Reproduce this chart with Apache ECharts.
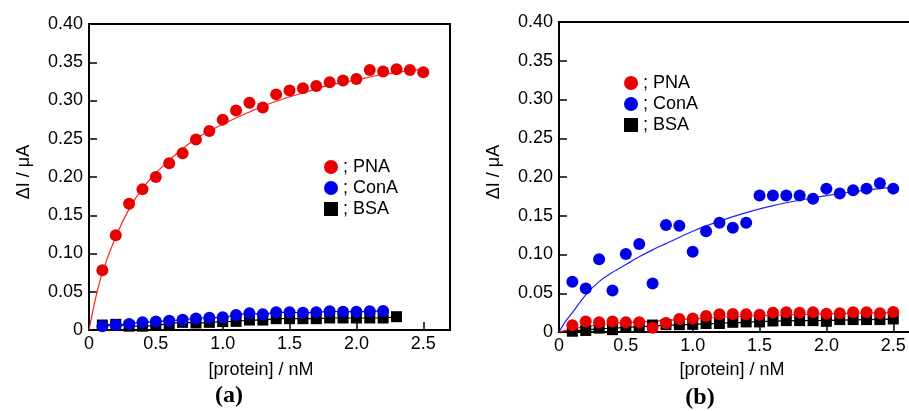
<!DOCTYPE html>
<html>
<head>
<meta charset="utf-8">
<script src="https://cdn.jsdelivr.net/npm/echarts@6/dist/echarts.min.js"></script>
<style>
  html, body { margin: 0; padding: 0; background: #fff; overflow: hidden; }
  /* the right-hand panel runs past the page edge, so the canvas is wider than the window */
  #chart { width: 930px; height: 411px; }
</style>
</head>
<body>
<div id="chart"></div>
<script>
// Protein concentration (nM) at each measurement
const conc = [0.1, 0.2, 0.3, 0.4, 0.5, 0.6, 0.7, 0.8, 0.9, 1.0, 1.1, 1.2, 1.3,
              1.4, 1.5, 1.6, 1.7, 1.8, 1.9, 2.0, 2.1, 2.2, 2.3, 2.4, 2.5];

// Panel (a): response, ΔI / μA
const aPNA = [0.078, 0.124, 0.165, 0.184, 0.200, 0.218, 0.231, 0.249, 0.260, 0.275, 0.287, 0.297, 0.291,
              0.308, 0.313, 0.316, 0.319, 0.324, 0.326, 0.328, 0.340, 0.338, 0.341, 0.340, 0.337];
const aConA = [0.005, 0.0065, 0.008, 0.010, 0.011, 0.012, 0.0135, 0.015, 0.016, 0.0166, 0.0196, 0.0218,
               0.0205, 0.0231, 0.0231, 0.0227, 0.0231, 0.0244, 0.024, 0.024, 0.0244, 0.0248];
const aBSA = [0.0065, 0.0074, 0.005, 0.005, 0.006, 0.0083, 0.010, 0.0092, 0.010, 0.011, 0.0113, 0.013,
              0.013, 0.0148, 0.0148, 0.0148, 0.0148, 0.0157, 0.0157, 0.0157, 0.0157, 0.0157, 0.0174];

// Panel (a): fitted saturation curve for PNA
const aFitX = [0, 0.05, 0.1, 0.2, 0.3, 0.4, 0.5, 0.6, 0.7, 0.8, 0.9, 1.0, 1.2, 1.4, 1.6, 1.8, 2.0, 2.2, 2.5];
const aFitPNA = [0, 0.042, 0.075, 0.122, 0.158, 0.185, 0.205, 0.222, 0.237, 0.250, 0.260, 0.269,
                 0.285, 0.299, 0.310, 0.320, 0.327, 0.334, 0.341];

// Panel (b): response, ΔI / μA
const bPNA = [0.0086, 0.0134, 0.0125, 0.0134, 0.0125, 0.0125, 0.0056, 0.0117, 0.0168, 0.0173, 0.0207, 0.0229, 0.0233,
              0.0229, 0.0224, 0.025, 0.0255, 0.025, 0.0255, 0.0237, 0.0242, 0.0255, 0.0255, 0.0242, 0.0259];
const bConA = [0.0647, 0.056, 0.094, 0.0535, 0.1005, 0.1135, 0.0626, 0.138, 0.137, 0.1036, 0.130, 0.141, 0.1346,
               0.141, 0.176, 0.176, 0.176, 0.176, 0.172, 0.185, 0.1786, 0.183, 0.185, 0.192, 0.185];
const bBSA = [0.001, 0.002, 0.005, 0.003, 0.0065, 0.0078, 0.009, 0.0095, 0.0095, 0.0099, 0.011, 0.011, 0.0125,
              0.013, 0.013, 0.0142, 0.0147, 0.0147, 0.0147, 0.0138, 0.016, 0.016, 0.016, 0.016, 0.0168];

// Panel (b): fitted curves
const bFitConAX = [0, 0.05, 0.1, 0.2, 0.3, 0.4, 0.5, 0.6, 0.7, 0.8, 1.0, 1.2, 1.4, 1.6, 1.8, 2.0, 2.2, 2.5];
const bFitConA = [0, 0.014, 0.025, 0.048, 0.065, 0.077, 0.087, 0.097, 0.106, 0.114, 0.130, 0.143,
                  0.154, 0.163, 0.170, 0.176, 0.181, 0.187];
const bFitPNAX = [0, 0.1, 0.2, 0.4, 0.6, 0.8, 1.0, 1.2, 1.5, 2.0, 2.5];
const bFitPNA = [0, 0.004, 0.007, 0.011, 0.013, 0.015, 0.017, 0.019, 0.021, 0.0235, 0.025];
const bFitBSAX = [0, 0.3, 0.5, 0.7, 1.0, 1.3, 1.6, 2.0, 2.5];
const bFitBSA = [0, 0.004, 0.006, 0.008, 0.0098, 0.012, 0.014, 0.015, 0.0165];

// Axis tick values
const xTicks = [0, 0.5, 1.0, 1.5, 2.0, 2.5];
const yTicks = [0, 0.05, 0.10, 0.15, 0.20, 0.25, 0.30, 0.35, 0.40];

const RED = '#e60000', BLUE = '#0000e6', BLACK = '#000000';
const FONT = '"Liberation Sans", Arial, sans-serif';

const pairs = (xs, ys) => ys.map((y, i) => [xs[i], y]);

function xAxisFor(grid) {
  return {
    type: 'value', gridIndex: grid, min: xTicks[0], max: 2.7, interval: xTicks[1] - xTicks[0],
    axisLine: { show: true, onZero: false, lineStyle: { color: BLACK, width: 2 } },
    axisTick: { show: true, inside: true, length: 8, lineStyle: { color: BLACK, width: 1.5 } },
    axisLabel: {
      color: BLACK, fontFamily: FONT, fontSize: 18, margin: 5, showMaxLabel: false,
      formatter: v => (xTicks.some(t => Math.abs(t - v) < 1e-9) ? (v === 0 ? '0' : v.toFixed(1)) : '')
    },
    splitLine: { show: false }
  };
}
function yAxisFor(grid) {
  return {
    type: 'value', gridIndex: grid, min: yTicks[0], max: yTicks[yTicks.length - 1], interval: yTicks[1] - yTicks[0],
    axisLine: { show: true, onZero: false, lineStyle: { color: BLACK, width: 2 } },
    axisTick: { show: true, inside: true, length: 8, lineStyle: { color: BLACK, width: 1.5 } },
    axisLabel: {
      color: BLACK, fontFamily: FONT, fontSize: 18, margin: 6,
      formatter: v => (v === 0 ? '0' : v.toFixed(2))
    },
    splitLine: { show: false }
  };
}

function scatter(name, grid, data, color, symbol) {
  return {
    name: name, type: 'scatter', xAxisIndex: grid, yAxisIndex: grid, data: data,
    symbol: symbol, symbolSize: symbol === 'rect' ? 11 : 12,
    itemStyle: { color: color, opacity: 1 }, z: 3
  };
}
function curve(name, grid, data, color) {
  return {
    name: name, type: 'line', xAxisIndex: grid, yAxisIndex: grid, data: data,
    smooth: 0.3, showSymbol: false, symbol: 'none',
    lineStyle: { color: color, width: 1.2 }, z: 2, silent: true
  };
}

function legendAt(left, top) {
  return {
    left: left, top: top, orient: 'vertical', itemWidth: 14, itemHeight: 14, itemGap: 3,
    selectedMode: false,
    data: [{ name: 'PNA', icon: 'circle' }, { name: 'ConA', icon: 'circle' }, { name: 'BSA', icon: 'rect' }],
    formatter: n => '; ' + n,
    textStyle: { color: BLACK, fontFamily: FONT, fontSize: 18 }
  };
}

function label(text, x, y, opts) {
  const o = opts || {};
  return {
    type: 'text', x: x, y: y, rotation: o.rotation || 0,
    style: {
      text: text, x: 0, y: 0, fill: BLACK, font: o.font || ('18px ' + FONT),
      textAlign: 'center', textVerticalAlign: 'middle'
    }
  };
}

const chart = echarts.init(document.getElementById('chart'), null, { renderer: 'canvas' });
chart.setOption({
  animation: false,
  backgroundColor: '#ffffff',
  grid: [
    { left: 89, top: 24, width: 361, height: 306, show: true, borderColor: BLACK, borderWidth: 2, backgroundColor: 'transparent' },
    { left: 559, top: 22, width: 361, height: 310, show: true, borderColor: BLACK, borderWidth: 2, backgroundColor: 'transparent' }
  ],
  xAxis: [xAxisFor(0), xAxisFor(1)],
  yAxis: [yAxisFor(0), yAxisFor(1)],
  legend: [legendAt(319, 153), legendAt(619, 69)],
  series: [
    // (a)
    curve('BSA line a', 0, pairs(conc, aBSA), BLACK),
    curve('ConA line a', 0, pairs(conc, aConA), BLUE),
    curve('PNA fit a', 0, pairs(aFitX, aFitPNA), '#ff2020'),
    scatter('BSA', 0, pairs(conc, aBSA), BLACK, 'rect'),
    scatter('ConA', 0, pairs(conc, aConA), BLUE, 'circle'),
    scatter('PNA', 0, pairs(conc, aPNA), RED, 'circle'),
    // (b)
    curve('BSA fit b', 1, pairs(bFitBSAX, bFitBSA), BLACK),
    curve('PNA fit b', 1, pairs(bFitPNAX, bFitPNA), '#ff2020'),
    curve('ConA fit b', 1, pairs(bFitConAX, bFitConA), '#2020ff'),
    scatter('BSA', 1, pairs(conc, bBSA), BLACK, 'rect'),
    scatter('ConA', 1, pairs(conc, bConA), BLUE, 'circle'),
    scatter('PNA', 1, pairs(conc, bPNA), RED, 'circle')
  ],
  graphic: [
    label('ΔI / μA', 24, 172, { rotation: Math.PI / 2 }),
    label('ΔI / μA', 494, 172, { rotation: Math.PI / 2 }),
    label('[protein] / nM', 261, 370),
    label('[protein] / nM', 732, 370),
    label('(a)', 229, 396, { font: 'bold 24px "Liberation Serif", "Times New Roman", serif' }),
    label('(b)', 700, 398, { font: 'bold 24px "Liberation Serif", "Times New Roman", serif' })
  ]
});
</script>
</body>
</html>
